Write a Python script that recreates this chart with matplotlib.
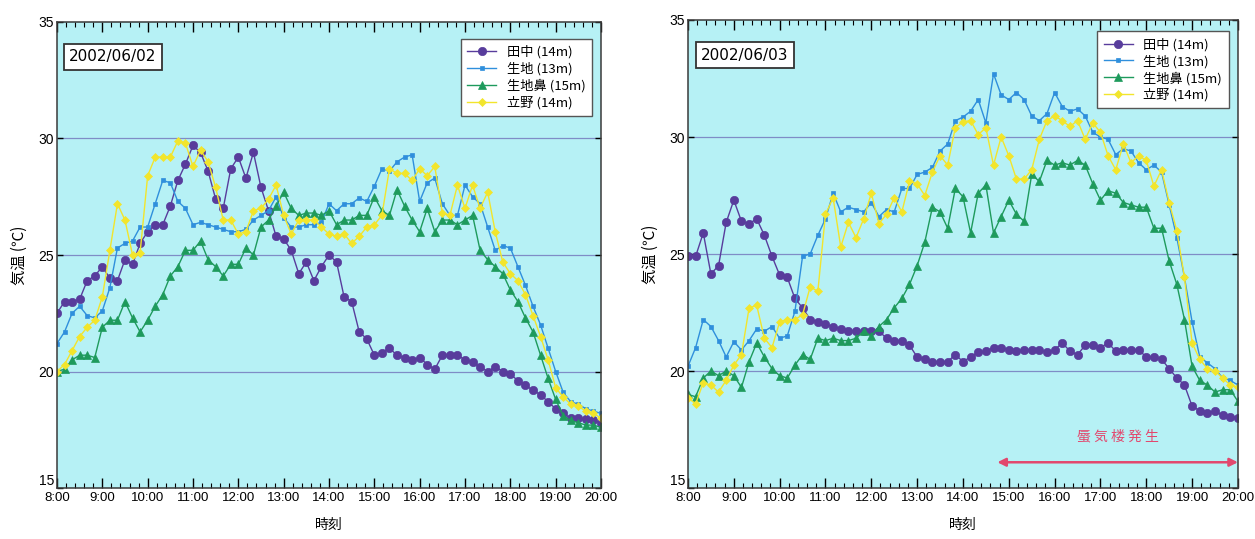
import matplotlib
matplotlib.use("Agg")
import matplotlib.pyplot as plt
from matplotlib.ticker import MultipleLocator, FixedLocator
import numpy as np

plt.rcParams['font.family'] = ['Noto Sans CJK JP', 'DejaVu Sans']
num_font = ['Liberation Sans', 'DejaVu Sans']

# 10 minute readings, 8:00 - 20:00
times = np.arange(73) / 6.0 + 8.0
hour_labels = ['8:00', '9:00', '10:00', '11:00', '12:00', '13:00', '14:00',
               '15:00', '16:00', '17:00', '18:00', '19:00', '20:00']
series_names = ['田中 (14m)', '生地 (13m)', '生地鼻 (15m)', '立野 (14m)']

# 2002/06/02
tanaka_0602 = [22.5, 23.0, 23.0, 23.1, 23.9, 24.1, 24.5, 24.0, 23.9, 24.8,
               24.6, 25.5, 26.0, 26.3, 26.3, 27.1, 28.2, 28.9, 29.7, 29.4,
               28.6, 27.4, 27.0, 28.7, 29.2, 28.3, 29.4, 27.9, 26.9, 25.8,
               25.7, 25.2, 24.2, 24.7, 23.9, 24.5, 25.0, 24.7, 23.2, 23.0,
               21.7, 21.4, 20.7, 20.8, 21.0, 20.7, 20.6, 20.5, 20.6, 20.3,
               20.1, 20.7, 20.7, 20.7, 20.5, 20.4, 20.2, 20.0, 20.2, 20.0,
               19.9, 19.6, 19.4, 19.2, 19.0, 18.7, 18.4, 18.2, 18.0, 18.0,
               17.95, 17.9, 17.8]
ikuji_0602 = [21.2, 21.7, 22.5, 22.8, 22.4, 22.3, 22.6, 23.6, 25.3, 25.5,
              25.6, 26.2, 26.2, 27.2, 28.2, 28.1, 27.3, 27.0, 26.3, 26.4,
              26.3, 26.2, 26.1, 26.0, 26.0, 26.1, 26.5, 26.7, 26.9, 27.5,
              26.6, 26.2, 26.2, 26.3, 26.3, 26.4, 27.2, 26.9, 27.2, 27.2,
              27.45, 27.3, 27.95, 28.7, 28.6, 29.0, 29.2, 29.3, 27.3, 28.1,
              28.3, 27.2, 26.7, 26.7, 28.0, 27.5, 27.2, 26.2, 25.2, 25.4,
              25.3, 24.5, 23.7, 22.8, 22.0, 21.0, 20.0, 19.1, 18.7, 18.6,
              18.4, 18.3, 18.2]
ikujibana_0602 = [20.0, 20.1, 20.5, 20.7, 20.7, 20.6, 21.9, 22.2, 22.2, 23.0,
                  22.3, 21.7, 22.2, 22.8, 23.3, 24.1, 24.5, 25.2, 25.2, 25.6,
                  24.8, 24.5, 24.1, 24.6, 24.6, 25.3, 25.0, 26.2, 26.5, 27.1,
                  27.7, 27.0, 26.7, 26.8, 26.8, 26.7, 26.9, 26.3, 26.5, 26.5,
                  26.7, 26.7, 27.5, 26.9, 26.7, 27.8, 27.1, 26.5, 26.0, 27.0,
                  26.0, 26.5, 26.5, 26.3, 26.5, 26.7, 25.2, 24.8, 24.5, 24.2,
                  23.5, 23.0, 22.3, 21.7, 20.7, 19.7, 18.8, 18.1, 17.9, 17.8,
                  17.7, 17.7, 17.6]
tateno_0602 = [20.0, 20.3, 20.9, 21.5, 21.9, 22.2, 23.2, 25.2, 27.2, 26.5,
               25.0, 25.1, 28.4, 29.2, 29.2, 29.2, 29.9, 29.8, 28.8, 29.5,
               29.0, 27.9, 26.5, 26.5, 25.9, 26.0, 26.9, 27.0, 27.4, 28.0,
               26.7, 25.9, 26.5, 26.5, 26.5, 26.2, 25.9, 25.8, 25.9, 25.5,
               25.8, 26.2, 26.3, 26.7, 28.7, 28.5, 28.5, 28.2, 28.7, 28.4,
               28.8, 26.8, 26.7, 28.0, 27.0, 28.0, 27.0, 27.7, 26.0, 24.7,
               24.2, 23.9, 23.3, 22.4, 21.5, 20.5, 19.3, 18.9, 18.6, 18.5,
               18.3, 18.2, 18.0]

# 2002/06/03
tanaka_0603 = [24.9, 24.9, 25.9, 24.15, 24.5, 26.35, 27.3, 26.4, 26.3, 26.5,
               25.8, 24.9, 24.1, 24.0, 23.1, 22.7, 22.2, 22.1, 22.0, 21.9,
               21.8, 21.7, 21.7, 21.7, 21.7, 21.7, 21.4, 21.3, 21.3, 21.1,
               20.6, 20.5, 20.4, 20.4, 20.4, 20.7, 20.4, 20.6, 20.8, 20.85,
               21.0, 21.0, 20.9, 20.85, 20.9, 20.9, 20.9, 20.8, 20.9, 21.2,
               20.85, 20.7, 21.1, 21.1, 21.0, 21.2, 20.85, 20.9, 20.9, 20.9,
               20.6, 20.6, 20.5, 20.1, 19.7, 19.4, 18.5, 18.3, 18.2, 18.3,
               18.1, 18.05, 18.0]
ikuji_0603 = [20.2, 21.0, 22.2, 21.9, 21.3, 20.6, 21.25, 20.9, 21.3, 21.8,
              21.7, 21.9, 21.4, 21.5, 22.55, 24.9, 25.0, 25.8, 26.5, 27.6,
              26.8, 27.0, 26.9, 26.8, 27.2, 26.6, 26.9, 26.8, 27.8, 27.8,
              28.4, 28.5, 28.7, 29.4, 29.7, 30.7, 30.85, 31.1, 31.6, 30.6,
              32.7, 31.8, 31.6, 31.9, 31.6, 30.9, 30.7, 31.0, 31.9, 31.3,
              31.1, 31.2, 30.9, 30.2, 30.0, 29.9, 29.25, 29.5, 29.4, 28.9,
              28.6, 28.8, 28.5, 27.1, 25.7, 24.0, 22.1, 20.6, 20.35, 20.1,
              19.7, 19.6, 19.4]
ikujibana_0603 = [19.0, 18.9, 19.7, 20.0, 19.8, 20.0, 19.8, 19.3, 20.4, 21.2,
                  20.6, 20.1, 19.8, 19.7, 20.25, 20.7, 20.5, 21.4, 21.3, 21.4,
                  21.3, 21.3, 21.4, 21.7, 21.5, 21.9, 22.2, 22.7, 23.1, 23.7,
                  24.5, 25.5, 27.0, 26.8, 26.1, 27.8, 27.45, 25.9, 27.6, 27.95,
                  25.9, 26.6, 27.3, 26.7, 26.4, 28.4, 28.1, 29.0, 28.8, 28.9,
                  28.8, 29.0, 28.8, 28.0, 27.3, 27.7, 27.6, 27.2, 27.1, 27.0,
                  27.0, 26.1, 26.1, 24.7, 23.7, 22.2, 20.2, 19.6, 19.4, 19.1,
                  19.2, 19.2, 18.7]
tateno_0603 = [18.85, 18.6, 19.5, 19.4, 19.1, 19.6, 20.25, 20.7, 22.7, 22.8,
               21.4, 21.0, 22.1, 22.2, 22.2, 22.4, 23.6, 23.4, 26.7, 27.4,
               25.3, 26.35, 25.7, 26.5, 27.6, 26.3, 26.7, 27.4, 26.8, 28.1,
               28.0, 27.5, 28.5, 29.2, 28.8, 30.4, 30.65, 30.7, 30.1, 30.4,
               28.8, 30.0, 29.2, 28.2, 28.2, 28.6, 29.9, 30.7, 30.9, 30.7,
               30.45, 30.7, 29.9, 30.6, 30.2, 29.2, 28.6, 29.7, 28.9, 29.2,
               29.0, 27.9, 28.6, 27.2, 26.0, 24.0, 21.2, 20.5, 20.1, 20.0,
               19.7, 19.4, 19.3]

# mirage period on 06/03
mirage_start = 14.75
mirage_end = 20.0

colors = ['#583c9c', '#2f8fdc', '#1e9a5c', '#f2e52c']
markers = ['o', 's', '^', 'D']
msizes = [6, 3.5, 5.5, 4.5]

fig = plt.figure(figsize=(12.55, 5.39), dpi=100)
ax1 = fig.add_axes([0.0454, 0.0946, 0.4335, 0.8646])
ax2 = fig.add_axes([0.5482, 0.0946, 0.4382, 0.8683])

days = [(ax1, '2002/06/02', [tanaka_0602, ikuji_0602, ikujibana_0602, tateno_0602], (0.996, 0.978)),
        (ax2, '2002/06/03', [tanaka_0603, ikuji_0603, ikujibana_0603, tateno_0603], (0.995, 0.99))]

for ax, date, data, legpos in days:
    ax.set_facecolor('#b6f1f5')
    for vals, name, c, m, ms in zip(data, series_names, colors, markers, msizes):
        ax.plot(times, vals, color=c, marker=m, markersize=ms, linewidth=1.0,
                markeredgewidth=0.5, label=name)
    ax.set_xlim(8, 20)
    ax.set_ylim(15, 35)
    ax.xaxis.set_major_locator(FixedLocator(np.arange(8, 21)))
    ax.set_xticklabels(hour_labels, fontsize=9.5, family=num_font)
    ax.xaxis.set_minor_locator(MultipleLocator(0.2))
    ax.yaxis.set_major_locator(FixedLocator([15, 20, 25, 30, 35]))
    ax.set_yticklabels(['15', '20', '25', '30', '35'], fontsize=10, family=num_font)
    ax.get_yticklabels()[0].set_verticalalignment('bottom')
    ax.tick_params(axis='x', which='major', direction='in', length=7, top=True, width=1, pad=3)
    ax.tick_params(axis='x', which='minor', direction='in', length=3.5, top=True, width=0.8)
    ax.tick_params(axis='y', which='major', direction='in', length=4, right=True, width=1, pad=2)
    for yv in [20, 25, 30]:
        ax.axhline(yv, color='#7f8dc6', linewidth=0.9, zorder=0.5)
    for sp in ax.spines.values():
        sp.set_color('#3a3a3a')
        sp.set_linewidth(1.1)
    ax.set_xlabel('時刻', fontsize=10, labelpad=10)
    ax.set_ylabel('気温 (℃)', fontsize=11, labelpad=8)
    ax.text(0.103, 0.925, date, transform=ax.transAxes, ha='center', va='center',
            fontsize=11, family=['DejaVu Sans'],
            bbox=dict(boxstyle='square,pad=0.35', facecolor='white', edgecolor='#333333', linewidth=1.3))
    leg = ax.legend(loc='upper right', bbox_to_anchor=legpos, fontsize=9.5, frameon=True,
                    fancybox=False, edgecolor='#555555', framealpha=1, handlelength=2.2,
                    labelspacing=0.25, borderpad=0.5)
    leg.get_frame().set_linewidth(1.0)

# mirage arrow
ax2.annotate('', xy=(mirage_start, 16.1), xytext=(mirage_end, 16.1),
             arrowprops=dict(arrowstyle='<|-|>', color='#e2486e', lw=1.8, mutation_scale=12,
                             shrinkA=0, shrinkB=0))
ax2.text((mirage_start + mirage_end) / 2, 17.2, '蜃 気 楼 発 生', color='#e2486e',
         fontsize=10, ha='center', va='center', style='italic')

fig.savefig('out.png', dpi=100, facecolor='white')
